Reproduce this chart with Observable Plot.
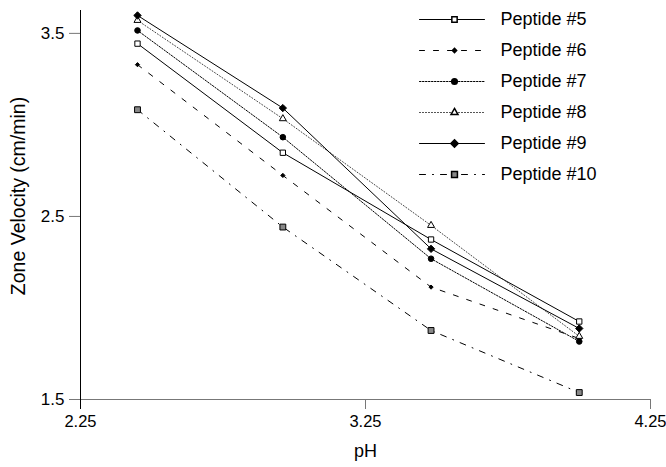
<!DOCTYPE html>
<html><head><meta charset="utf-8">
<script src="https://cdn.jsdelivr.net/npm/d3@7"></script>
<script src="https://cdn.jsdelivr.net/npm/@observablehq/plot@0.6"></script>
<style>
body{margin:0;background:#fff;}
#chart{position:relative;width:666px;height:467px;}
#chart > svg{position:absolute;left:0;top:0;}
</style></head><body><div id="chart"></div>
<script>
// ---- data ----
const pH = [2.45, 2.96, 3.48, 4.0];
const pep5 = [3.444, 2.848, 2.374, 1.926];
const pep6 = [3.329, 2.724, 2.114, 1.833];
const pep7 = [3.516, 2.933, 2.269, 1.817];
const pep8 = [3.571, 3.034, 2.451, 1.845];
const pep9 = [3.598, 3.092, 2.323, 1.888];
const pep10 = [3.083, 2.442, 1.877, 1.538];
const seriesNames = ["Peptide #5", "Peptide #6", "Peptide #7", "Peptide #8", "Peptide #9", "Peptide #10"];
const seriesValues = [pep5, pep6, pep7, pep8, pep9, pep10];
const xTicks = [2.25, 3.25, 4.25];
const yTicks = [1.5, 2.5, 3.5];

// ---- styles ----
const styles = [
  {dash: null,      stroke: "#000", symbol: "square",   fill: "white", r: 3.0},
  {dash: "5,9",     stroke: "#000", symbol: "diamond2", fill: "black", r: 1.9},
  {dash: "1.5,1.5", stroke: "#000", symbol: "circle",   fill: "black", r: 2.8},
  {dash: "1,2",     stroke: "#444", symbol: "triangle", fill: "white", r: 2.6},
  {dash: null,      stroke: "#000", symbol: "diamond2", fill: "black", r: 3.3},
  {dash: "6,7,1,7", stroke: "#000", symbol: "square",   fill: "#888",  r: 3.3}
];
const FONT = "'Liberation Sans', Arial, Helvetica, sans-serif";
const FS = 17;

const rows = seriesNames.map((name, i) => seriesValues[i].map((v, j) => ({series: name, pH: pH[j], v})));

const marks = [
  Plot.ruleY([yTicks[0]], {stroke: "#777"}),
  Plot.axisY({ticks: yTicks, tickSize: 11, tickPadding: 5, stroke: "#777", fill: "black", fontSize: FS, label: null, tickFormat: d3.format(".1f")}),
  Plot.axisX({ticks: xTicks, tickSize: 10, tickPadding: 6, stroke: "#777", fill: "black", fontSize: 16.5, label: null, tickFormat: d3.format(".2f")}),
  Plot.axisX({ticks: [xTicks[0]], tickSize: 10, stroke: "black", fill: "none", label: null}),
  Plot.ruleX([xTicks[0]], {stroke: "black"}),
  Plot.text(["Zone Velocity (cm/min)"], {frameAnchor: "left", textAnchor: "middle", rotate: -90, dx: -62, dy: -9, fontSize: 19.5, letterSpacing: "1.8px"}),
  Plot.text(["pH"], {frameAnchor: "bottom", dy: 57, fontSize: 18})
];
rows.forEach((data, i) => {
  const s = styles[i];
  marks.push(Plot.line(data, {x: "pH", y: "v", stroke: s.stroke, strokeWidth: 1, strokeDasharray: s.dash}));
});
rows.forEach((data, i) => {
  const s = styles[i];
  marks.push(Plot.dot(data, {x: "pH", y: "v", symbol: () => s.symbol, r: s.r, fill: s.fill, stroke: "black", strokeWidth: 1}));
});

const chart = Plot.plot({
  width: 666, height: 467,
  marginLeft: 80, marginRight: 16, marginTop: 10, marginBottom: 68,
  x: {domain: [2.25, 4.25]},
  y: {domain: [1.5, 3.625]},
  symbol: {type: "identity"},
  style: {fontFamily: FONT, fontSize: FS + "px", background: "transparent", color: "black"},
  marks
});
document.getElementById("chart").appendChild(chart);

// ---- legend ----
const legendMarks = [];
seriesNames.forEach((name, i) => {
  const s = styles[i];
  const seg = [{t: 0, name}, {t: 1, name}];
  legendMarks.push(Plot.line(seg, {x: "t", y: "name", stroke: s.stroke, strokeWidth: 1, strokeDasharray: s.dash}));
  legendMarks.push(Plot.dot([{t: 0.5, name}], {x: "t", y: "name", dx: 2.5, symbol: () => s.symbol, r: s.r, fill: s.fill, stroke: "black"}));
});
legendMarks.push(Plot.text(seriesNames, {x: () => 1, y: d => d, dx: 16, textAnchor: "start", fontSize: FS + 1}));
const legend = Plot.plot({
  width: 666, height: 467,
  x: {domain: [0, 1], range: [419, 484], axis: null},
  y: {type: "point", domain: seriesNames, range: [19, 174], padding: 0, axis: null},
  symbol: {type: "identity"},
  style: {fontFamily: FONT, fontSize: FS + "px", background: "transparent", color: "black"},
  marks: legendMarks
});
document.getElementById("chart").appendChild(legend);
</script>
</body></html>
